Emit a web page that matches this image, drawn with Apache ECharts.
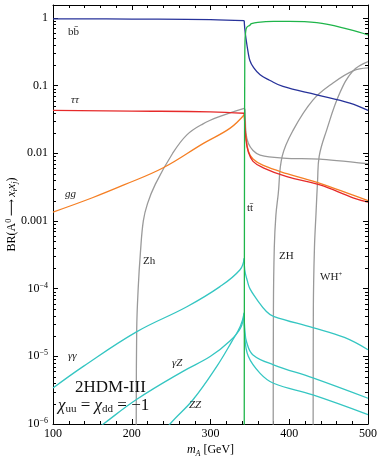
<!DOCTYPE html>
<html><head><meta charset="utf-8">
<script src="https://cdn.jsdelivr.net/npm/echarts@6/dist/echarts.min.js"></script>
<style>html,body{margin:0;padding:0;background:#fff}#c{width:378px;height:458px}</style>
</head><body><div id="c"></div>
<script>
// Branching ratios of the CP-odd Higgs A0 versus its mass m_A [GeV]
const bbbar = [[100,0.97],[200,0.96],[300,0.945],[342.8,0.91],[343.5,0.7],[345,0.5],[348,0.3],[350,0.235],[354,0.19],[363,0.144],[375,0.12],[392,0.097],[435,0.073],[477,0.055],[500,0.043]];
const tautau = [[100,0.043],[200,0.042],[300,0.041],[342.8,0.039],[343.5,0.03],[345,0.016],[348,0.0105],[354,0.0076],[367,0.0061],[397,0.0045],[439,0.0034],[481,0.0022],[500,0.0019]];
const gluglu = [[100,0.00135],[150,0.0022],[190,0.0034],[240,0.0061],[291,0.014],[325,0.0235],[342.8,0.037],[343.5,0.028],[345,0.018],[348,0.0108],[354,0.0082],[367,0.0066],[397,0.005],[439,0.0036],[481,0.0024],[500,0.002]];
const ttbar = [[342.8,1e-7],[343.0,1e-4],[343.2,0.01],[343.5,0.2],[343.8,0.45],[344.5,0.6],[346,0.72],[350,0.78],[352,0.82],[360,0.86],[380,0.885],[400,0.885],[435,0.85],[477,0.67],[500,0.56]];
const zhLight = [[205.6,5e-7],[206.3,2.5e-5],[208.3,1.07e-4],[211,3.4e-4],[214.7,1e-3],[220,0.0018],[230,0.0035],[252,0.01],[270,0.0187],[290,0.027],[312,0.035],[342.8,0.046],[343.8,0.044],[345,0.02],[348,0.014],[354,0.011],[363,0.0094],[392,0.0085],[439,0.0082],[500,0.007]];
const zhHeavy = [[379.6,5e-7],[379.9,5e-5],[381,4e-4],[383,1.2e-3],[386,0.0025],[391,0.009],[405,0.022],[430,0.061],[456,0.11],[481,0.165],[500,0.182]];
const whCharged = [[430.3,5e-7],[430.6,5e-5],[432,4e-4],[434,1.3e-3],[436,0.004],[438,0.009],[447.5,0.022],[464,0.077],[481,0.165],[500,0.226]];
const gamgam = [[100,3.4e-6],[138.5,7.1e-6],[206,2.3e-5],[270,5.4e-5],[312,1.07e-4],[337.5,1.9e-4],[342.8,2.8e-4],[343.5,1.9e-4],[346.8,1.3e-4],[350,1.0e-4],[358.6,7e-5],[371,4.6e-5],[380,3.9e-5],[430,2.65e-5],[470,1.9e-5],[500,1.25e-5]];
const gamZ = [[150,7.5e-7],[164,1e-6],[206,2.3e-6],[265,6e-6],[300,1e-5],[325,1.7e-5],[338,2.6e-5],[342.8,4.2e-5],[343.5,2e-5],[348,1e-5],[363,5.6e-6],[380,4e-6],[430,2.7e-6],[500,1.38e-6]];
const zz = [[240,7e-7],[248.6,1e-6],[278,2.3e-6],[308,7.1e-6],[327,1.65e-5],[338,2.8e-5],[342.8,4.4e-5],[343.5,2.5e-5],[346,1.6e-5],[354,1.05e-5],[380,7.5e-6],[430,4.8e-6],[500,2.4e-6]];

// top-pair threshold, where most curves have a cusp
const thresholdTT = 342.8;
const xTicks = [100, 200, 300, 400, 500];
const minorFactors = [2,3,4,5,6,7,8,9];
const decades = [-6,-5,-4,-3,-2,-1];

const SERIF = '"Liberation Serif","Times New Roman","DejaVu Serif",serif';
const C = {blue:'#27329a', red:'#e62a2a', orange:'#f57f24', green:'#1fb54a', grey:'#9a9a9a', cyan:'#35c6c2'};

const minorTickData = [];
decades.forEach(d => minorFactors.forEach(f => minorTickData.push([100, f * Math.pow(10, d)])));

function branch(name, data, color, z) {
  return {name, type:'line', data, showSymbol:false, smooth:0.4,
    lineStyle:{color, width:1.3}, z: z || 2, silent:true, animation:false};
}
// each curve is drawn as two smooth branches that meet at the tt threshold
function curve(name, data, color, z) {
  const below = data.filter(p => p[0] <= thresholdTT);
  const above = data.filter(p => p[0] >= thresholdTT);
  const out = [];
  if (below.length > 1) out.push(branch(name, below, color, z));
  if (above.length > 1) out.push(branch(name, above, color, z));
  return out;
}

function yLabel(v) {
  const e = Math.log10(v);
  if (Math.abs(e - Math.round(e)) > 1e-6) return '';
  const k = Math.round(e);
  if (k >= -3) return '{n|' + (k === 0 ? '1' : (Math.pow(10, k)).toFixed(-k)) + '}';
  return '{n|10}{s|\u2212' + (-k) + '}';
}

const axisText = {fontFamily:SERIF, fontSize:12, color:'#000'};

const option = {
  backgroundColor:'#fff',
  animation:false,
  grid:{left:53, right:10, top:5, bottom:34, outerBoundsMode:'none', containLabel:false},
  xAxis:[{
    type:'value', min:xTicks[0], max:xTicks[xTicks.length-1], interval:100,
    axisLine:{lineStyle:{color:'#000', width:1}},
    axisTick:{inside:true, length:5, lineStyle:{color:'#000'}},
    minorTick:{show:true, splitNumber:5, length:3, lineStyle:{color:'#000'}},
    splitLine:{show:false},
    axisLabel:{...axisText, margin:4},
    name:'{m|m}{a|A}{t| [GeV]}', nameLocation:'middle', nameGap:20, nameMoveOverlap:false,
    nameTextStyle:{rich:{m:{fontFamily:SERIF, fontSize:12, fontStyle:'italic', lineHeight:14, verticalAlign:'top'},
      a:{fontFamily:SERIF, fontSize:8, fontStyle:'italic', lineHeight:8, verticalAlign:'bottom', padding:[4,0,0,0]},
      t:{fontFamily:SERIF, fontSize:12, lineHeight:14, verticalAlign:'top'}}}
  },{
    type:'value', position:'top', min:100, max:500, interval:100,
    axisLine:{lineStyle:{color:'#000', width:1}},
    axisTick:{inside:true, length:5, lineStyle:{color:'#000'}},
    minorTick:{show:true, splitNumber:5, length:3, lineStyle:{color:'#000'}},
    splitLine:{show:false}, axisLabel:{show:false}
  }],
  yAxis:[{
    type:'log', logBase:10, min:1e-6, max:1.55, interval:1,
    axisLine:{lineStyle:{color:'#000', width:1}},
    axisTick:{inside:true, length:5, lineStyle:{color:'#000'}},
    splitLine:{show:false},
    axisLabel:{formatter:yLabel, margin:5, showMaxLabel:false, rich:{
      n:{fontFamily:SERIF, fontSize:12, color:'#000', lineHeight:14},
      s:{fontFamily:SERIF, fontSize:8, color:'#000', lineHeight:8, verticalAlign:'top'}}},
    name:'{t|BR(A}{s|0}{t|\u2009\u27F6\u2009}{i|x}{b|i}{i|x}{b|j}{t|)}', nameLocation:'middle', nameGap:34, nameRotate:90, nameMoveOverlap:false,
    nameTextStyle:{rich:{
      t:{fontFamily:SERIF, fontSize:12, color:'#000', lineHeight:14},
      i:{fontFamily:SERIF, fontSize:12, fontStyle:'italic', color:'#000', lineHeight:14},
      s:{fontFamily:SERIF, fontSize:8, color:'#000', lineHeight:8, verticalAlign:'top'},
      b:{fontFamily:SERIF, fontSize:8, fontStyle:'italic', color:'#000', lineHeight:8, verticalAlign:'bottom'}}}
  },{
    type:'log', logBase:10, min:1e-6, max:1.55, interval:1, position:'right',
    axisLine:{lineStyle:{color:'#000', width:1}},
    axisTick:{inside:true, length:5, lineStyle:{color:'#000'}},
    splitLine:{show:false}, axisLabel:{show:false}
  }],
  series:[
    ...curve('ZH', zhHeavy, C.grey),
    ...curve('WH+', whCharged, C.grey),
    ...curve('Zh', zhLight, C.grey),
    ...curve('gg', gluglu, C.orange, 3),
    ...curve('tautau', tautau, C.red, 3),
    ...curve('gammagamma', gamgam, C.cyan),
    ...curve('gammaZ', gamZ, C.cyan),
    ...curve('ZZ', zz, C.cyan),
    ...curve('bb', bbbar, C.blue, 4),
    ...curve('tt', ttbar, C.green, 5),
    {
      type:'custom', data:minorTickData, encode:{x:0, y:1}, silent:true, z:10, clip:false,
      renderItem(params, api) {
        const v = api.value(1);
        const pl = api.coord([100, v]);
        const pr = api.coord([500, v]);
        const st = {stroke:'#000', lineWidth:1};
        const y = Math.round(pl[1]) + 0.5;
        return {type:'group', children:[
          {type:'line', shape:{x1:pl[0], y1:y, x2:pl[0]+3, y2:y}, style:st},
          {type:'line', shape:{x1:pr[0]-3, y1:y, x2:pr[0], y2:y}, style:st}
        ]};
      }
    }
  ],
  graphic:[]
};

// curve labels
const lab = (text, x, y, italic, size) => ({type:'text', left:x, top:y, silent:true, z:20,
  style:{text, fontFamily:SERIF, fontSize:size || 11, fontStyle: italic ? 'italic' : 'normal', fill:'#222'}});
option.graphic = [
  lab('bb\u0304', 68, 27),
  lab('\u03C4\u03C4', 71, 95, true),
  lab('gg', 65, 189, true),
  lab('tt\u0304', 247, 203),
  lab('Zh', 143, 256),
  lab('ZH', 279, 251),
  {type:'text', left:320, top:271, silent:true, z:20,
    style:{text:'{a|WH}{s|+}', rich:{a:{fontFamily:SERIF, fontSize:11, fill:'#222', lineHeight:13},
      s:{fontFamily:SERIF, fontSize:7, fill:'#222', lineHeight:7, verticalAlign:'top'}}}},
  lab('\u03B3\u03B3', 68, 351, true),
  lab('\u03B3Z', 172, 358, true),
  lab('ZZ', 189, 400, true),
  {type:'text', left:75, top:379, silent:true, z:20,
    style:{text:'2HDM-III', fontFamily:SERIF, fontSize:17, fill:'#111'}},
  {type:'text', left:58, top:397, silent:true, z:20,
    style:{text:'{c|\u03C7}{b|uu}{t| = }{c|\u03C7}{b|dd}{t| = \u22121}', rich:{
      c:{fontFamily:SERIF, fontSize:17, fontStyle:'italic', fill:'#111', lineHeight:18},
      t:{fontFamily:SERIF, fontSize:17, fill:'#111', lineHeight:18},
      b:{fontFamily:SERIF, fontSize:11, fill:'#111', lineHeight:11, verticalAlign:'bottom'}}}}
];

const chart = echarts.init(document.getElementById('c'), null, {renderer:'canvas'});
chart.setOption(option);
</script>
</body></html>
